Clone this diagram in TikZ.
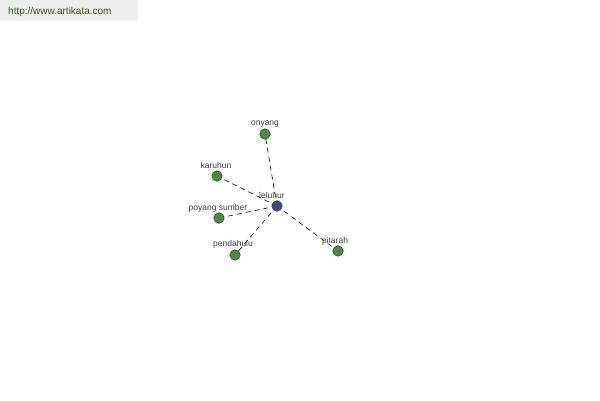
\documentclass[tikz,border=0pt]{standalone}
\usepackage{fontspec}
\setmainfont{Liberation Sans}
\definecolor{leaf}{HTML}{4C8A3C}
\definecolor{hub}{HTML}{3E4A8C}
\definecolor{banner}{HTML}{EEEEEE}
\definecolor{linktext}{HTML}{3A5A1A}
\tikzset{
  leafnode/.style={circle, draw=black!80, fill=leaf, line width=0.5pt, minimum size=10.5pt, inner sep=0pt},
  hubnode/.style={circle, draw=black!80, fill=hub, line width=0.5pt, minimum size=10.5pt, inner sep=0pt},
  lbl/.style={font=\fontsize{8.5}{9}\selectfont, text=black!75, inner sep=0pt},
  link/.style={dashed, dash pattern=on 5pt off 4pt, line width=0.6pt, black}
}
\begin{document}
\begin{tikzpicture}[x=1pt,y=-1pt]
\useasboundingbox (0,0) rectangle (600,400);
\fill[white] (0,0) rectangle (600,400);
\fill[banner] (0,0) rectangle (138,21);
\node[font=\fontsize{10}{11}\selectfont, text=linktext, anchor=west, inner sep=0pt] (url) at (8,11.5) {http://www.artikata.com};
\coordinate (c) at (277,206);
\coordinate (a) at (265,134);
\coordinate (b) at (217,176);
\coordinate (d) at (219,218);
\coordinate (e) at (235,255);
\coordinate (f) at (338,251);
\draw[link] (c) -- (a);
\draw[link] (c) -- (b);
\draw[link] (c) -- (d);
\draw[link] (c) -- (e);
\draw[link] (c) -- (f);
\node[hubnode] (leluhur) at (c) {};
\node[leafnode] (onyang) at (a) {};
\node[leafnode] (karuhun) at (b) {};
\node[leafnode] (poyang) at (d) {};
\node[leafnode] (pendahulu) at (e) {};
\node[leafnode] (pitarah) at (f) {};
\node[lbl] (t1) at (272,195.5) {leluhur};
\node[lbl] (t2) at (265,124.5) {onyang};
\node[lbl] (t3) at (216,165.5) {karuhun};
\node[lbl] (t4) at (218,208.5) {poyang sumber};
\node[lbl] (t5) at (233,244.5) {pendahulu};
\node[lbl] (t6) at (335,241.5) {pitarah};
\end{tikzpicture}
\end{document}
